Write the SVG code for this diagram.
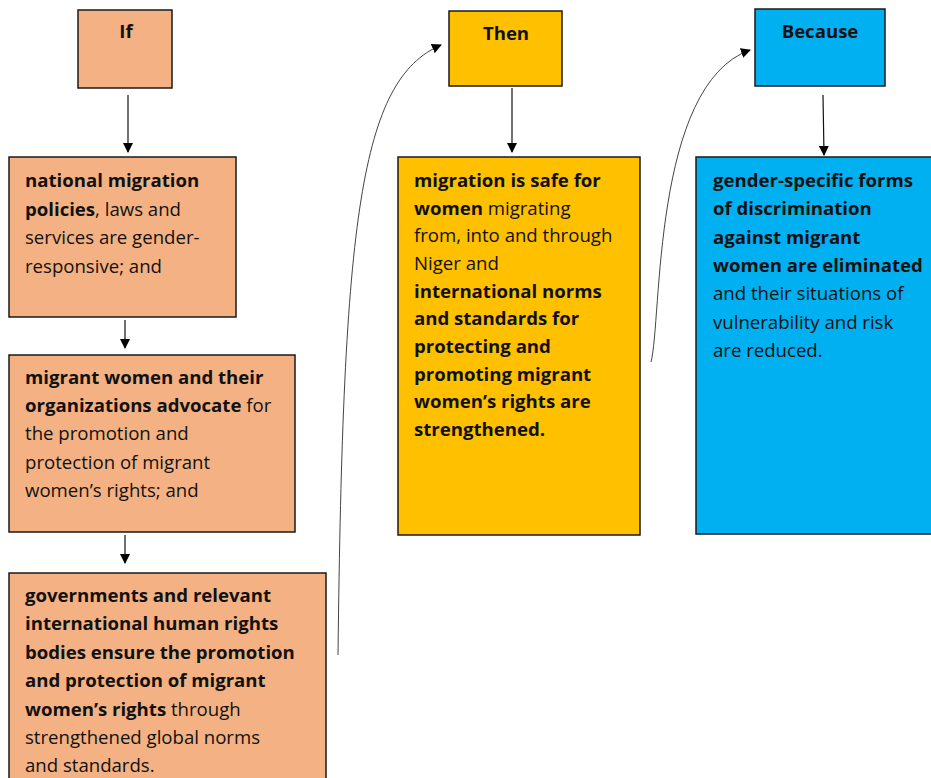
<svg xmlns="http://www.w3.org/2000/svg" width="931" height="778" viewBox="0 0 931 778">
<style>
  text { font-family: "Open Sans", "Liberation Sans", Arial, sans-serif; font-size: 18.6px; fill: #111; }
  .b { font-weight: bold; }
  .h { font-weight: bold; text-anchor: middle; }
  .box { stroke: #1a1a1a; stroke-width: 1.5; }
  .or { fill: #F4B183; }
  .go { fill: #FFC000; }
  .bl { fill: #00B0F0; }
  .con { fill: none; stroke: #111; stroke-width: 1.2; }
  .curve { fill: none; stroke: #444; stroke-width: 1; }
</style>
<defs>
  <marker id="ah" markerWidth="10" markerHeight="10" refX="9" refY="5" orient="auto" markerUnits="userSpaceOnUse">
    <path d="M0,0 L10,5 L0,10 Z" fill="#000"/>
  </marker>
</defs>
<rect width="931" height="778" fill="#fff"/>

<g id="connectors">
  <line class="con" x1="128" y1="95" x2="128" y2="152" marker-end="url(#ah)"/>
  <line class="con" x1="125" y1="320" x2="125" y2="348" marker-end="url(#ah)"/>
  <line class="con" x1="125" y1="535" x2="125" y2="563" marker-end="url(#ah)"/>
  <line class="con" x1="512" y1="88" x2="512" y2="152" marker-end="url(#ah)"/>
  <line class="con" x1="823" y1="95" x2="824" y2="155" marker-end="url(#ah)"/>
  <path class="curve" d="M338,655 C343,220 360,80 441,45" marker-end="url(#ah)"/>
  <path class="curve" d="M651,362 C662,320 652,85 750,50" marker-end="url(#ah)"/>
</g>

<g id="if-head">
  <rect class="box or" x="78" y="10" width="94" height="78"/>
  <text class="h" x="126" y="38">If</text>
</g>
<g id="if-1">
  <rect class="box or" x="9" y="157" width="227" height="160"/>
  <text x="25" y="187"><tspan class="b">national migration</tspan></text>
  <text x="25" y="216"><tspan class="b">policies</tspan>, laws and</text>
  <text x="25" y="244">services are gender-</text>
  <text x="25" y="273">responsive; and</text>
</g>
<g id="if-2">
  <rect class="box or" x="9" y="355" width="286" height="177"/>
  <text x="25" y="384"><tspan class="b">migrant women and their</tspan></text>
  <text x="25" y="412"><tspan class="b">organizations advocate</tspan> for</text>
  <text x="25" y="440">the promotion and</text>
  <text x="25" y="469">protection of migrant</text>
  <text x="25" y="497">women’s rights; and</text>
</g>
<g id="if-3">
  <rect class="box or" x="9" y="573" width="317" height="215"/>
  <text x="25" y="602"><tspan class="b">governments and relevant</tspan></text>
  <text x="25" y="630"><tspan class="b">international human rights</tspan></text>
  <text x="25" y="659"><tspan class="b">bodies ensure the promotion</tspan></text>
  <text x="25" y="687"><tspan class="b">and protection of migrant</tspan></text>
  <text x="25" y="716"><tspan class="b">women’s rights</tspan> through</text>
  <text x="25" y="744">strengthened global norms</text>
  <text x="25" y="772">and standards.</text>
</g>

<g id="then-head">
  <rect class="box go" x="449" y="11" width="113" height="75"/>
  <text class="h" x="506" y="40">Then</text>
</g>
<g id="then-1">
  <rect class="box go" x="398" y="157" width="242" height="378"/>
  <text x="414" y="187"><tspan class="b">migration is safe for</tspan></text>
  <text x="414" y="215"><tspan class="b">women</tspan> migrating</text>
  <text x="414" y="242">from, into and through</text>
  <text x="414" y="270">Niger and</text>
  <text x="414" y="298"><tspan class="b">international norms</tspan></text>
  <text x="414" y="325"><tspan class="b">and standards for</tspan></text>
  <text x="414" y="353"><tspan class="b">protecting and</tspan></text>
  <text x="414" y="381"><tspan class="b">promoting migrant</tspan></text>
  <text x="414" y="408"><tspan class="b">women’s rights are</tspan></text>
  <text x="414" y="436"><tspan class="b">strengthened.</tspan></text>
</g>

<g id="because-head">
  <rect class="box bl" x="755" y="9" width="130" height="77"/>
  <text class="h" x="820" y="38">Because</text>
</g>
<g id="because-1">
  <rect class="box bl" x="696" y="157" width="245" height="377"/>
  <text x="713" y="187"><tspan class="b">gender-specific forms</tspan></text>
  <text x="713" y="215"><tspan class="b">of discrimination</tspan></text>
  <text x="713" y="244"><tspan class="b">against migrant</tspan></text>
  <text x="713" y="272"><tspan class="b">women are eliminated</tspan></text>
  <text x="713" y="300">and their situations of</text>
  <text x="713" y="329">vulnerability and risk</text>
  <text x="713" y="357">are reduced.</text>
</g>
</svg>
